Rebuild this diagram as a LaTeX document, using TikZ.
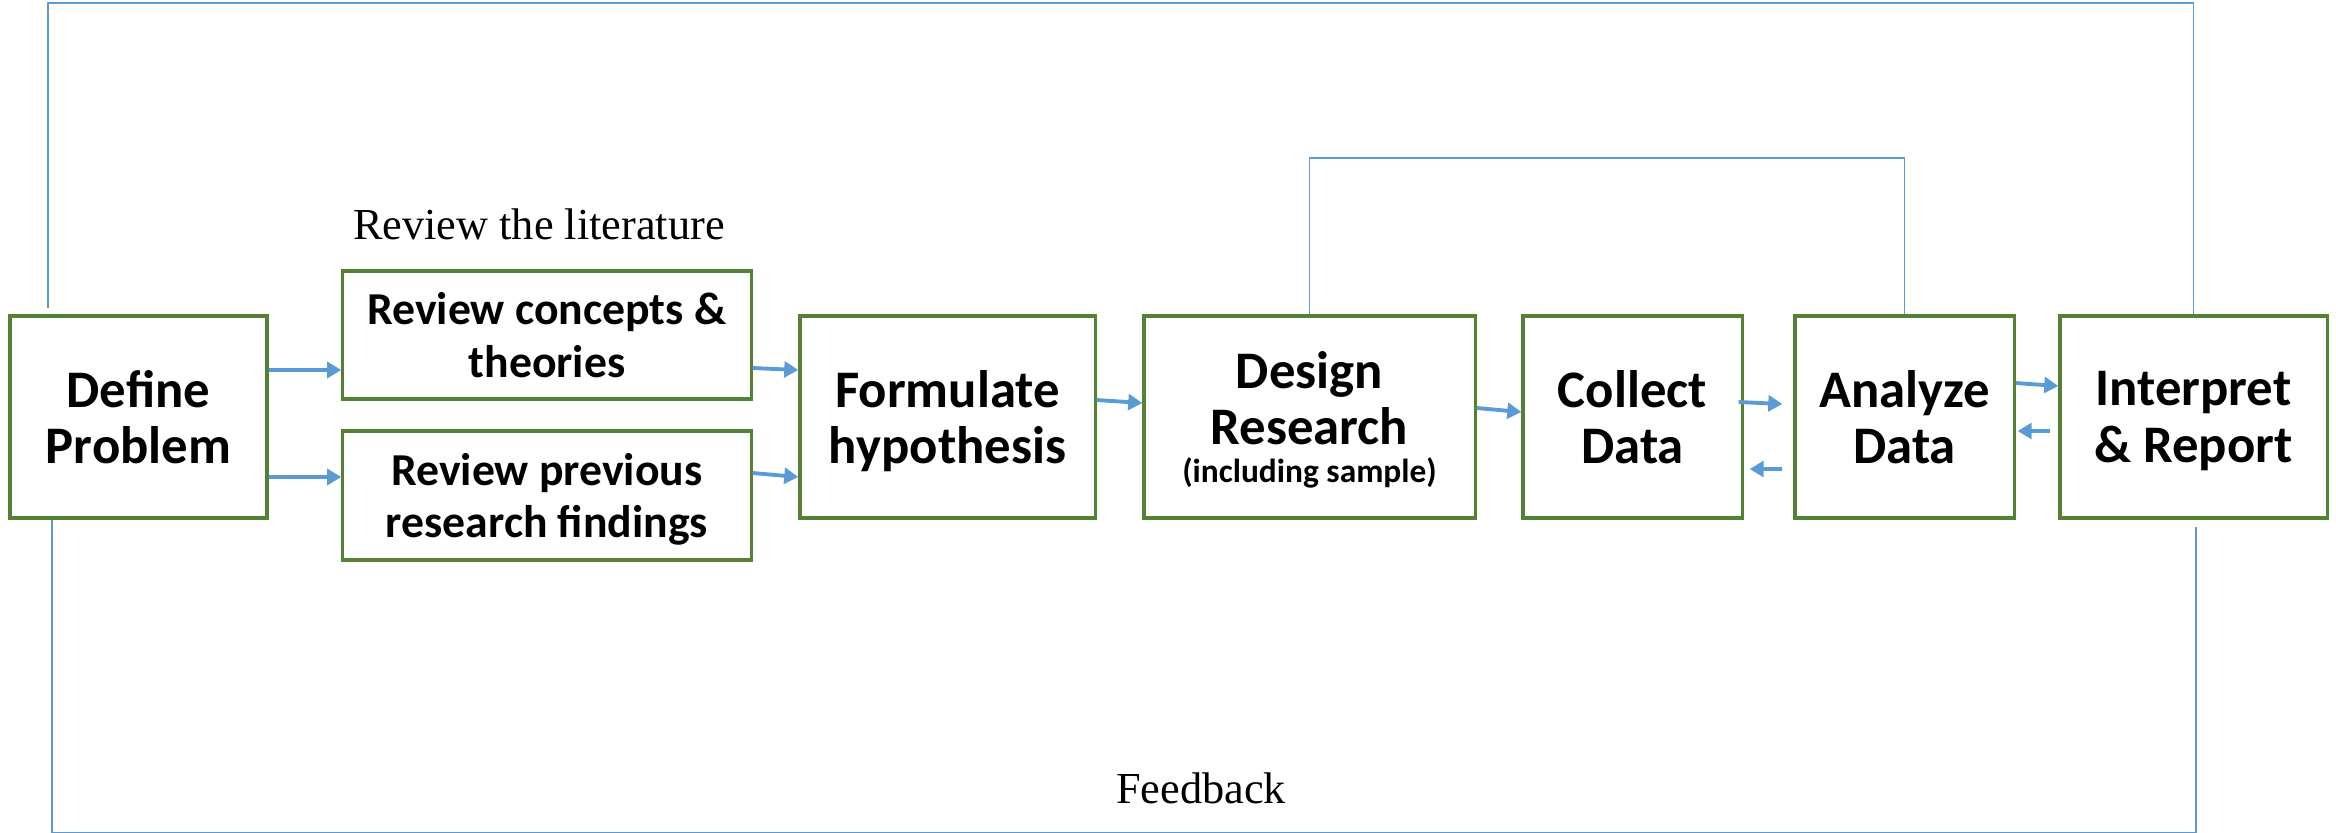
\documentclass[tikz,border=0pt]{standalone}
\usepackage{fontspec}
\setmainfont{Liberation Serif}
\newfontfamily\boxfont{Carlito}
\usetikzlibrary{arrows.meta,calc}
\definecolor{bgreen}{HTML}{548235}
\definecolor{lblue}{HTML}{5B9BD5}
\begin{document}
\begin{tikzpicture}[x=0.01cm,y=-0.01cm,
  box/.style={draw=bgreen, line width=0.9pt, fill=white, align=center, inner sep=0pt, text depth=0pt,
    font=\boxfont\bfseries\fontsize{15}{16}\selectfont},
  rbox/.style={box, font=\boxfont\bfseries\fontsize{13}{15}\selectfont},
  arr/.style={draw=lblue, line width=1.1pt, -{Triangle[length=4pt,width=4.5pt]}},
  fb/.style={draw=lblue, line width=0.5pt},
  lbl/.style={font=\fontsize{12.6}{15}\selectfont}]
\useasboundingbox (0,0) rectangle (2336,832);

\node[box, minimum width=2.57cm, minimum height=2.02cm] (def) at (138.5,417) {Define\\Problem};
\node[rbox, minimum width=4.08cm, minimum height=1.28cm] (rc) at (547,335) {Review concepts \&\\theories};
\node[rbox, minimum width=4.08cm, minimum height=1.29cm] (rp) at (547,495.5) {Review previous\\research findings};
\node[box, minimum width=2.95cm, minimum height=2.02cm] (form) at (947.5,417) {Formulate\\hypothesis};
\node[box, minimum width=3.31cm, minimum height=2.02cm] (des) at (1309.5,417) {Design\\Research\\[-5pt]{\fontsize{9.5}{11}\selectfont(including sample)}};
\node[box, minimum width=2.19cm, minimum height=2.02cm] (col) at (1632.5,417) {Collect\\Data};
\node[box, minimum width=2.19cm, minimum height=2.02cm] (ana) at (1904.5,417) {Analyze\\Data};
\node[box, minimum width=2.67cm, minimum height=2.02cm] (int) at (2193.5,417) {Interpret\\\& Report};

\node[lbl] (lit) at (539,224) {Review the literature};
\node[lbl] (fbk) at (1201,788) {Feedback};

\draw[arr] ($(def.east)+(0,-47)$) -- ($(rc.west)+(0,35)$);
\draw[arr] ($(def.east)+(0,60)$) -- ($(rp.west)+(0,-18.5)$);
\draw[arr] ($(rc.east)+(0,33)$) -- ($(form.west)+(0,-47)$);
\draw[arr] ($(rp.east)+(0,-22.5)$) -- ($(form.west)+(0,60)$);
\draw[arr] ($(form.east)+(0,-17)$) -- ($(des.west)+(0,-14)$);
\draw[arr] ($(des.east)+(0,-9)$) -- ($(col.west)+(0,-5)$);
\draw[arr] ($(col.east)+(-5,-15)$) -- ($(ana.west)+(-11,-13)$);
\draw[arr] ($(ana.west)+(-11,52)$) -- ($(col.east)+(6,52)$);
\draw[arr] ($(ana.east)+(0,-34)$) -- ($(int.west)+(0,-31)$);
\draw[arr] ($(int.west)+(-8,14)$) -- ($(ana.east)+(2,14)$);

\draw[fb] ($(def.north west)+(40,-6)$) -- ++(0,-305.5) -| (int.north);
\draw[fb] ($(def.south west)+(43.5,0)$) -- ++(0,313) -| ($(int.south)+(2.5,7)$);
\draw[fb] (des.north) -- ++(0,-156) -| (ana.north);
\end{tikzpicture}
\end{document}
